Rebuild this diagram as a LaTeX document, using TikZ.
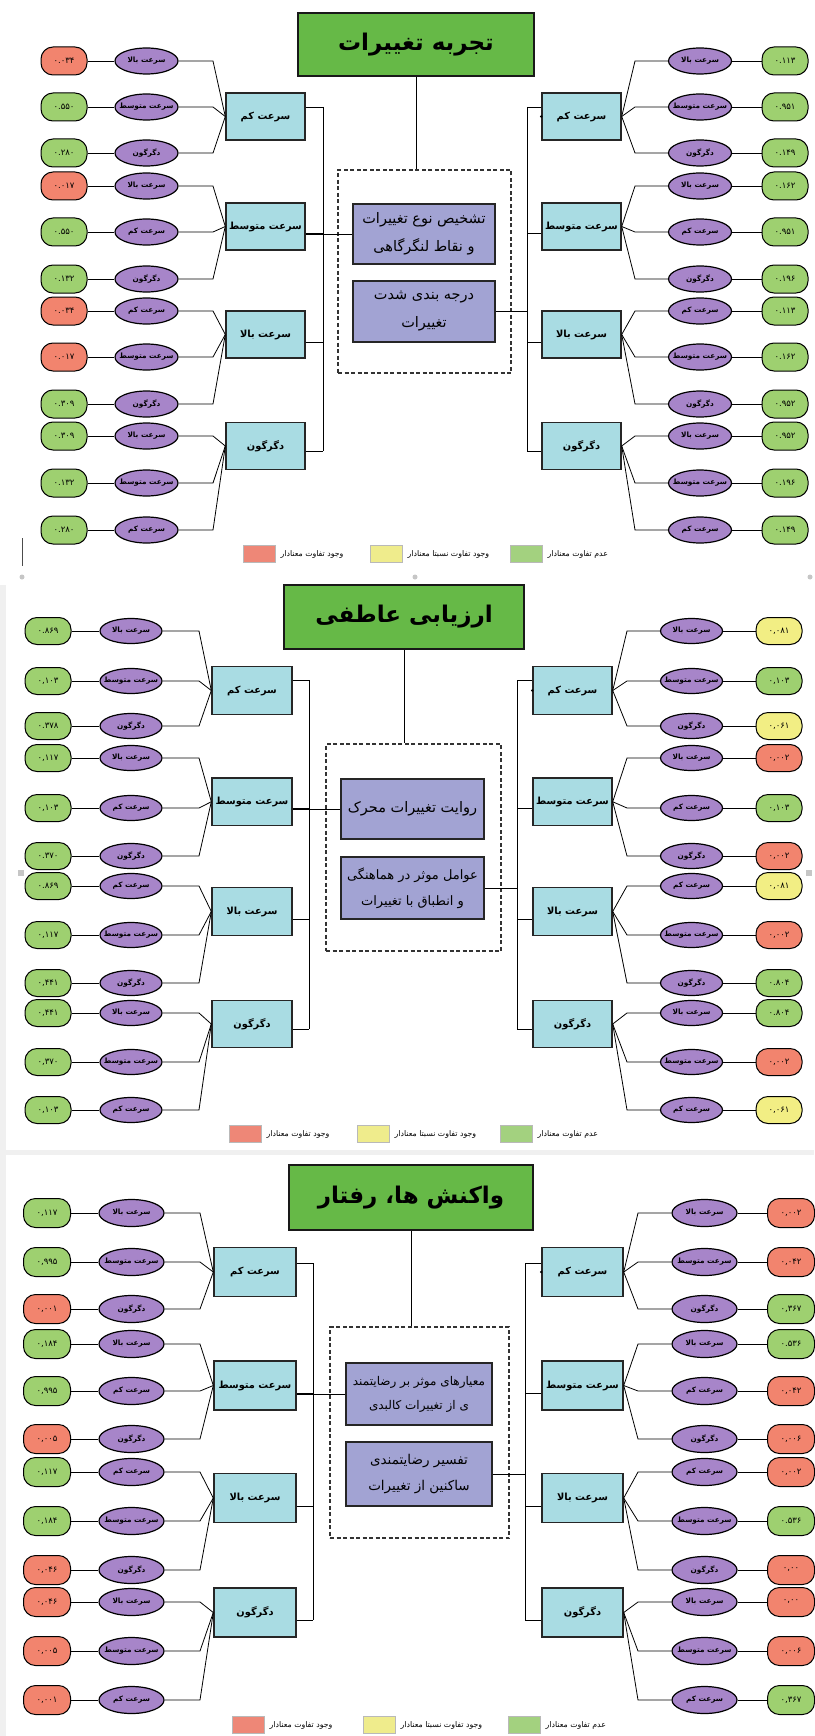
\documentclass[tikz,border=0pt]{standalone}
\usepackage{fontspec}
\usetikzlibrary{shapes.geometric}
\setmainfont{DejaVu Sans}
\newfontfamily\fa[Script=Arabic]{DejaVu Sans}
\TeXXeTstate=1
\newcommand\fatx[1]{\beginR#1\endR}
\newcommand\elab[1]{\ifcase#1\or سرعت بالا\or سرعت متوسط\or دگرگون\or سرعت بالا\or سرعت کم\or دگرگون\or سرعت کم\or سرعت متوسط\or دگرگون\or سرعت بالا\or سرعت متوسط\or سرعت کم\fi}
\newcommand\blab[1]{\ifcase#1\or سرعت کم\or سرعت متوسط\or سرعت بالا\or دگرگون\fi}
\definecolor{cG}{HTML}{9ED070}
\definecolor{cR}{HTML}{F2846E}
\definecolor{cY}{HTML}{F2EE84}
\definecolor{cEl}{HTML}{A785C9}
\definecolor{cBox}{HTML}{A9DCE3}
\definecolor{cPur}{HTML}{A2A3D3}
\definecolor{cTit}{HTML}{66B947}
\definecolor{lR}{HTML}{EE8777}
\definecolor{lY}{HTML}{EFEC8C}
\definecolor{lG}{HTML}{A3D17F}
\newcommand\leggroup[5]{%
 \node[legsq, fill=lR] (#1r) at (#3,#2) {};
 \node[legt] (#1rt) at ([xshift=5pt]#1r.east) {\fatx{وجود تفاوت معنادار}};
 \node[legsq, fill=lY] (#1y) at (#4,#2) {};
 \node[legt] (#1yt) at ([xshift=5pt]#1y.east) {\fatx{وجود تفاوت نسبتا معنادار}};
 \node[legsq, fill=lG] (#1g) at (#5,#2) {};
 \node[legt] (#1gt) at ([xshift=5pt]#1g.east) {\fatx{عدم تفاوت معنادار}};
}
\begin{document}
\begin{tikzpicture}[x=1pt,y=-1pt,
 pill/.style={rectangle, draw=black, line width=1pt, rounded corners=12pt, inner sep=0pt, font=\fa\fontsize{8.5}{9}\selectfont},
 ell/.style={ellipse, draw=black, line width=1.2pt, fill=cEl, inner sep=0pt},
 etxt/.style={inner sep=0pt, font=\fa\bfseries\fontsize{7.3}{8}\selectfont},
 sbox/.style={rectangle, draw=black!85, line width=1.4pt, fill=cBox, inner sep=0pt, font=\fa\bfseries\fontsize{9.8}{11}\selectfont},
 pbox/.style={rectangle, draw=black!85, line width=1.8pt, fill=cPur, align=center, inner sep=0pt},
 tbox/.style={rectangle, draw=black!90, line width=2.4pt, fill=cTit, inner sep=0pt, font=\fa\bfseries\fontsize{23}{26}\selectfont},
 dbox/.style={rectangle, draw=black!80, line width=1.1pt, dash pattern=on 4pt off 2.5pt, inner sep=0pt},
 con/.style={draw=black, line width=0.8pt},
 legsq/.style={rectangle, draw=gray!55, line width=0.5pt, anchor=west, minimum width=32pt, minimum height=17pt, inner sep=0pt},
 legt/.style={font=\fa\fontsize{7.8}{8}\selectfont, anchor=west, inner sep=0pt},
 pillA/.style={pill, minimum width=46pt, minimum height=28pt},
 ellA/.style={ell, minimum width=63pt, minimum height=26pt},
 pillB/.style={pill, minimum width=46pt, minimum height=27pt},
 ellB/.style={ell, minimum width=62pt, minimum height=25pt},
 pillC/.style={pill, minimum width=47pt, minimum height=29pt},
 ellC/.style={ell, minimum width=65pt, minimum height=27pt},
 artf/.style={fill=gray!45}
]
\useasboundingbox (0,0) rectangle (814,1736);
\fill[white] (0,0) rectangle (814,1736);
% screenshot artefacts
\fill[gray!12] (0,585) rectangle (6,1736);
\fill[gray!12] (6,1150) rectangle (814,1155);
\draw[black!70, line width=0.8pt] (22,538) -- (22,566);
\fill[artf] (22,577) circle (2.5pt);
\fill[artf] (415,577) circle (2.5pt);
\fill[artf] (810,577) circle (2.5pt);
\fill[artf] (18,870) rectangle (24,876);
\fill[artf] (806,870) rectangle (812,876);

%================ PANEL A =================
\node[tbox, minimum width=236pt, minimum height=63pt] (AT) at (416,44.5) {\fatx{تجربه تغییرات}};
\node[dbox, minimum width=173pt, minimum height=203pt] (AD) at (424.5,271.5) {};
\node[pbox, minimum width=142pt, minimum height=60pt, font=\fa\fontsize{14.5}{28}\selectfont] (AP1) at (424,234) {\fatx{تشخیص نوع تغییرات}\\\fatx{و نقاط لنگرگاهی}};
\node[pbox, minimum width=142pt, minimum height=61pt, font=\fa\fontsize{14.5}{28}\selectfont] (AP2) at (424,311.5) {\fatx{درجه بندی شدت}\\\fatx{تغییرات}};
\draw[con] (AT.south) -- (AT.south |- AD.north);
\foreach \k/\yy in {1/116.5,2/226.5,3/334.5,4/446}{
 \node[sbox, minimum width=79pt, minimum height=47pt] (ABL\k) at (265.5,\yy) {\fatx{\blab{\k}}};
 \node[sbox, minimum width=79pt, minimum height=47pt] (ABR\k) at (581.5,\yy) {\fatx{\blab{\k}}};
}
\foreach \k/\yy in {1/107,2/233,3/342,4/451}{
 \coordinate (ATL\k) at (323,\yy);
 \coordinate (ATR\k) at (527,\yy);
}
\draw[con] (ATL1) -- (ATL4);
\draw[con] (ATR1) -- (ATR4);
\foreach \k in {1,...,4}{
 \draw[con] (ABL\k.east |- ATL\k) -- (ATL\k);
 \draw[con] (ABR\k.west |- ATR\k) -- (ATR\k);
}
\draw[con] (ABL2.east |- AP1.west) -- (AP1.west);
\draw[con] (AP2.east) -- (AP2.east -| ATR1);
\fill (ABR1.west) circle (1.4pt);
\foreach \y/\vv/\cc [count=\i] in {61/۰.۰۳۴/cR,107/۰.۵۵۰/cG,153/۰.۲۸۰/cG,186/۰.۰۱۷/cR,232/۰.۵۵۰/cG,279/۰.۱۳۲/cG,311/۰.۰۳۴/cR,357/۰.۰۱۷/cR,404/۰.۳۰۹/cG,436/۰.۳۰۹/cG,483/۰.۱۳۲/cG,530/۰.۲۸۰/cG}{
 \pgfmathtruncatemacro\g{(\i+2)/3}
 \node[pillA, fill=\cc] (ALV\i) at (64,\y) {\vv};
 \node[ellA] (ALE\i) at (146.5,\y) {};
 \node[etxt] (ALT\i) at (ALE\i) {\fatx{\elab{\i}}};
 \draw[con] (ALV\i) -- (ALE\i);
 \draw[con] (ALE\i.east) -- (213,\y) -- (ABL\g.west);
}
\foreach \y/\vv/\cc [count=\i] in {61/۰.۱۱۳/cG,107/۰.۹۵۱/cG,153/۰.۱۴۹/cG,186/۰.۱۶۲/cG,232/۰.۹۵۱/cG,279/۰.۱۹۶/cG,311/۰.۱۱۳/cG,357/۰.۱۶۲/cG,404/۰.۹۵۲/cG,436/۰.۹۵۲/cG,483/۰.۱۹۶/cG,530/۰.۱۴۹/cG}{
 \pgfmathtruncatemacro\g{(\i+2)/3}
 \node[pillA, fill=\cc] (ARV\i) at (785,\y) {\vv};
 \node[ellA] (ARE\i) at (700,\y) {};
 \node[etxt] (ART\i) at (ARE\i) {\fatx{\elab{\i}}};
 \draw[con] (ARE\i) -- (ARV\i);
 \draw[con] (ABR\g.east) -- (635,\y) -- (ARE\i.west);
}
\leggroup{AL}{554}{243}{370}{510}

%================ PANEL B =================
\node[tbox, minimum width=240pt, minimum height=64pt] (BT) at (404,617) {\fatx{ارزیابی عاطفی}};
\node[dbox, minimum width=175pt, minimum height=207pt] (BD) at (413.5,847.5) {};
\node[pbox, minimum width=143pt, minimum height=60pt, font=\fa\fontsize{14.5}{26}\selectfont] (BP1) at (412.5,809) {\fatx{روایت تغییرات محرک}};
\node[pbox, minimum width=143pt, minimum height=62pt, font=\fa\fontsize{13}{26}\selectfont] (BP2) at (412.5,888) {\fatx{عوامل موثر در هماهنگی}\\\fatx{و انطباق با تغییرات}};
\draw[con] (BT.south) -- (BT.south |- BD.north);
\foreach \k/\yy in {1/690.5,2/801.75,3/911.5,4/1024}{
 \node[sbox, minimum width=80pt, minimum height=47.5pt] (BBL\k) at (252,\yy) {\fatx{\blab{\k}}};
 \node[sbox, minimum width=79pt, minimum height=47.5pt] (BBR\k) at (572.5,\yy) {\fatx{\blab{\k}}};
}
\foreach \k/\yy in {1/680,2/808,3/919,4/1029}{
 \coordinate (BTL\k) at (309,\yy);
 \coordinate (BTR\k) at (517,\yy);
}
\draw[con] (BTL1) -- (BTL4);
\draw[con] (BTR1) -- (BTR4);
\foreach \k in {1,...,4}{
 \draw[con] (BBL\k.east |- BTL\k) -- (BTL\k);
 \draw[con] (BBR\k.west |- BTR\k) -- (BTR\k);
}
\draw[con] (BBL2.east |- BP1.west) -- (BP1.west);
\draw[con] (BP2.east) -- (BP2.east -| BTR1);
\fill (BBR1.west) circle (1.4pt);
\foreach \y/\vv/\cc [count=\i] in {631/{۰.۸۶۹}/cG,681/{۰,۱۰۳}/cG,726/{۰.۳۷۸}/cG,758/{۰,۱۱۷}/cG,808/{۰,۱۰۳}/cG,856/{۰.۳۷۰}/cG,886/{۰.۸۶۹}/cG,935/{۰,۱۱۷}/cG,983/{۰,۴۴۱}/cG,1013/{۰,۴۴۱}/cG,1062/{۰,۳۷۰}/cG,1110/{۰,۱۰۳}/cG}{
 \pgfmathtruncatemacro\g{(\i+2)/3}
 \node[pillB, fill=\cc] (BLV\i) at (48,\y) {\vv};
 \node[ellB] (BLE\i) at (131,\y) {};
 \node[etxt] (BLT\i) at (BLE\i) {\fatx{\elab{\i}}};
 \draw[con] (BLV\i) -- (BLE\i);
 \draw[con] (BLE\i.east) -- (199,\y) -- (BBL\g.west);
}
\foreach \y/\vv/\cc [count=\i] in {631/{۰,۰۸۱}/cY,681/{۰,۱۰۳}/cG,726/{۰,۰۶۱}/cY,758/{۰,۰۰۲}/cR,808/{۰,۱۰۳}/cG,856/{۰,۰۰۲}/cR,886/{۰,۰۸۱}/cY,935/{۰,۰۰۲}/cR,983/{۰.۸۰۴}/cG,1013/{۰.۸۰۴}/cG,1062/{۰,۰۰۲}/cR,1110/{۰,۰۶۱}/cY}{
 \pgfmathtruncatemacro\g{(\i+2)/3}
 \node[pillB, fill=\cc] (BRV\i) at (779,\y) {\vv};
 \node[ellB] (BRE\i) at (691.5,\y) {};
 \node[etxt] (BRT\i) at (BRE\i) {\fatx{\elab{\i}}};
 \draw[con] (BRE\i) -- (BRV\i);
 \draw[con] (BBR\g.east) -- (627,\y) -- (BRE\i.west);
}
\leggroup{BL}{1134}{229}{357}{500}

%================ PANEL C =================
\node[tbox, minimum width=244pt, minimum height=65pt] (CT) at (411,1197.5) {\fatx{واکنش ها، رفتار}};
\node[dbox, minimum width=179pt, minimum height=211pt] (CD) at (419.5,1432.5) {};
\node[pbox, minimum width=146pt, minimum height=62pt, font=\fa\fontsize{12}{24}\selectfont] (CP1) at (419,1394) {\fatx{معیارهای موثر بر رضایتمند}\\\fatx{ی از تغییرات کالبدی}};
\node[pbox, minimum width=146pt, minimum height=64pt, font=\fa\fontsize{13.5}{26}\selectfont] (CP2) at (419,1474) {\fatx{تفسیر رضایتمندی}\\\fatx{ساکنین از تغییرات}};
\draw[con] (CT.south) -- (CT.south |- CD.north);
\foreach \k/\yy in {1/1272,2/1385.5,3/1498,4/1612.5}{
 \node[sbox, minimum width=82pt, minimum height=49pt] (CBL\k) at (255,\yy) {\fatx{\blab{\k}}};
 \node[sbox, minimum width=81pt, minimum height=49pt] (CBR\k) at (582.5,\yy) {\fatx{\blab{\k}}};
}
\foreach \k/\yy in {1/1263,2/1393,3/1506,4/1620}{
 \coordinate (CTL\k) at (313,\yy);
 \coordinate (CTR\k) at (525,\yy);
}
\draw[con] (CTL1) -- (CTL4);
\draw[con] (CTR1) -- (CTR4);
\foreach \k in {1,...,4}{
 \draw[con] (CBL\k.east |- CTL\k) -- (CTL\k);
 \draw[con] (CBR\k.west |- CTR\k) -- (CTR\k);
}
\draw[con] (CBL2.east |- CP1.west) -- (CP1.west);
\draw[con] (CP2.east) -- (CP2.east -| CTR1);
\fill (CBR1.west) circle (1.4pt);
\foreach \y/\vv/\cc [count=\i] in {1213/{۰,۱۱۷}/cG,1262/{۰,۹۹۵}/cG,1309/{۰,۰۰۱}/cR,1344/{۰,۱۸۴}/cG,1391/{۰,۹۹۵}/cG,1439/{۰,۰۰۵}/cR,1472/{۰,۱۱۷}/cG,1521/{۰,۱۸۴}/cG,1570/{۰,۰۴۶}/cR,1602/{۰,۰۴۶}/cR,1651/{۰,۰۰۵}/cR,1700/{۰,۰۰۱}/cR}{
 \pgfmathtruncatemacro\g{(\i+2)/3}
 \node[pillC, fill=\cc] (CLV\i) at (47,\y) {\vv};
 \node[ellC] (CLE\i) at (131.5,\y) {};
 \node[etxt] (CLT\i) at (CLE\i) {\fatx{\elab{\i}}};
 \draw[con] (CLV\i) -- (CLE\i);
 \draw[con] (CLE\i.east) -- (200,\y) -- (CBL\g.west);
}
\foreach \y/\vv/\cc [count=\i] in {1213/{۰,۰۰۲}/cR,1262/{۰,۰۴۲}/cR,1309/{۰,۳۶۷}/cG,1344/{۰.۵۳۶}/cG,1391/{۰,۰۴۲}/cR,1439/{۰,۰۰۶}/cR,1472/{۰,۰۰۲}/cR,1521/{۰.۵۳۶}/cG,1570/{۰,۰۰}/cR,1602/{۰,۰۰}/cR,1651/{۰,۰۰۶}/cR,1700/{۰,۳۶۷}/cG}{
 \pgfmathtruncatemacro\g{(\i+2)/3}
 \node[pillC, fill=\cc] (CRV\i) at (791,\y) {\vv};
 \node[ellC] (CRE\i) at (704.5,\y) {};
 \node[etxt] (CRT\i) at (CRE\i) {\fatx{\elab{\i}}};
 \draw[con] (CRE\i) -- (CRV\i);
 \draw[con] (CBR\g.east) -- (638,\y) -- (CRE\i.west);
}
\leggroup{CL}{1725}{232}{363}{508}
\end{tikzpicture}
\end{document}
